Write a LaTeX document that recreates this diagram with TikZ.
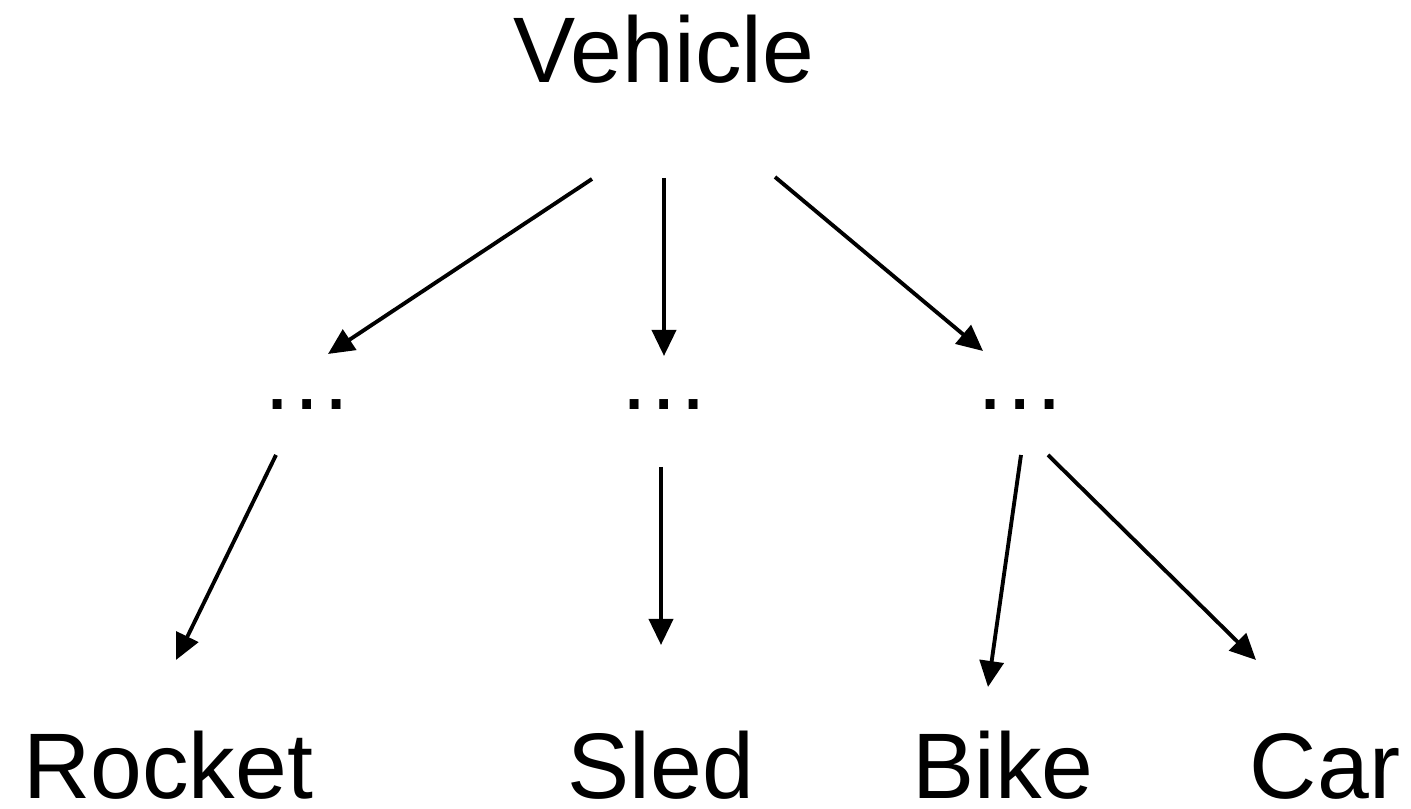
\documentclass[tikz,border=0pt]{standalone}
\usepackage{fontspec}
\setmainfont{Liberation Sans}
\usepackage{tikz}
\usetikzlibrary{arrows.meta}

\begin{document}
\begin{tikzpicture}[
    word/.style={inner sep=0pt, anchor=base, font=\fontsize{26.5}{30}\selectfont},
    arrow/.style={-{Triangle[length=0.26cm, width=0.24cm]}, line width=1.1pt}
]
    \useasboundingbox (0,0) rectangle (14.11,8.09);

    % Nodes
    \node[word] (vehicle) at (6.64,7.26) {Vehicle};
    \node[word] (dotsl) at (3.07,3.99) {\ldots};
    \node[word] (dotsm) at (6.64,3.99) {\ldots};
    \node[word] (dotsr) at (10.20,3.99) {\ldots};
    \node[word] (rocket) at (1.68,0.10) {Rocket};
    \node[word] (sled) at (6.61,0.10) {Sled};
    \node[word] (bike) at (10.03,0.10) {Bike};
    \node[word] (car) at (13.25,0.10) {Car};

    % Arrows
    \draw[arrow] ([shift={(-0.72,-0.96)}]vehicle.base) -- ([shift={(0.21,0.56)}]dotsl.base);
    \draw[arrow] ([shift={(0,-0.95)}]vehicle.base) -- ([shift={(0,0.54)}]dotsm.base);
    \draw[arrow] ([shift={(1.11,-0.94)}]vehicle.base) -- ([shift={(-0.37,0.59)}]dotsr.base);
    \draw[arrow] ([shift={(-0.31,-0.45)}]dotsl.base) -- ([shift={(0.08,1.39)}]rocket.base);
    \draw[arrow] ([shift={(-0.03,-0.57)}]dotsm.base) -- ([shift={(0,1.54)}]sled.base);
    \draw[arrow] ([shift={(0.01,-0.45)}]dotsr.base) -- ([shift={(-0.15,1.12)}]bike.base);
    \draw[arrow] ([shift={(0.28,-0.45)}]dotsr.base) -- ([shift={(-0.69,1.39)}]car.base);
\end{tikzpicture}
\end{document}
